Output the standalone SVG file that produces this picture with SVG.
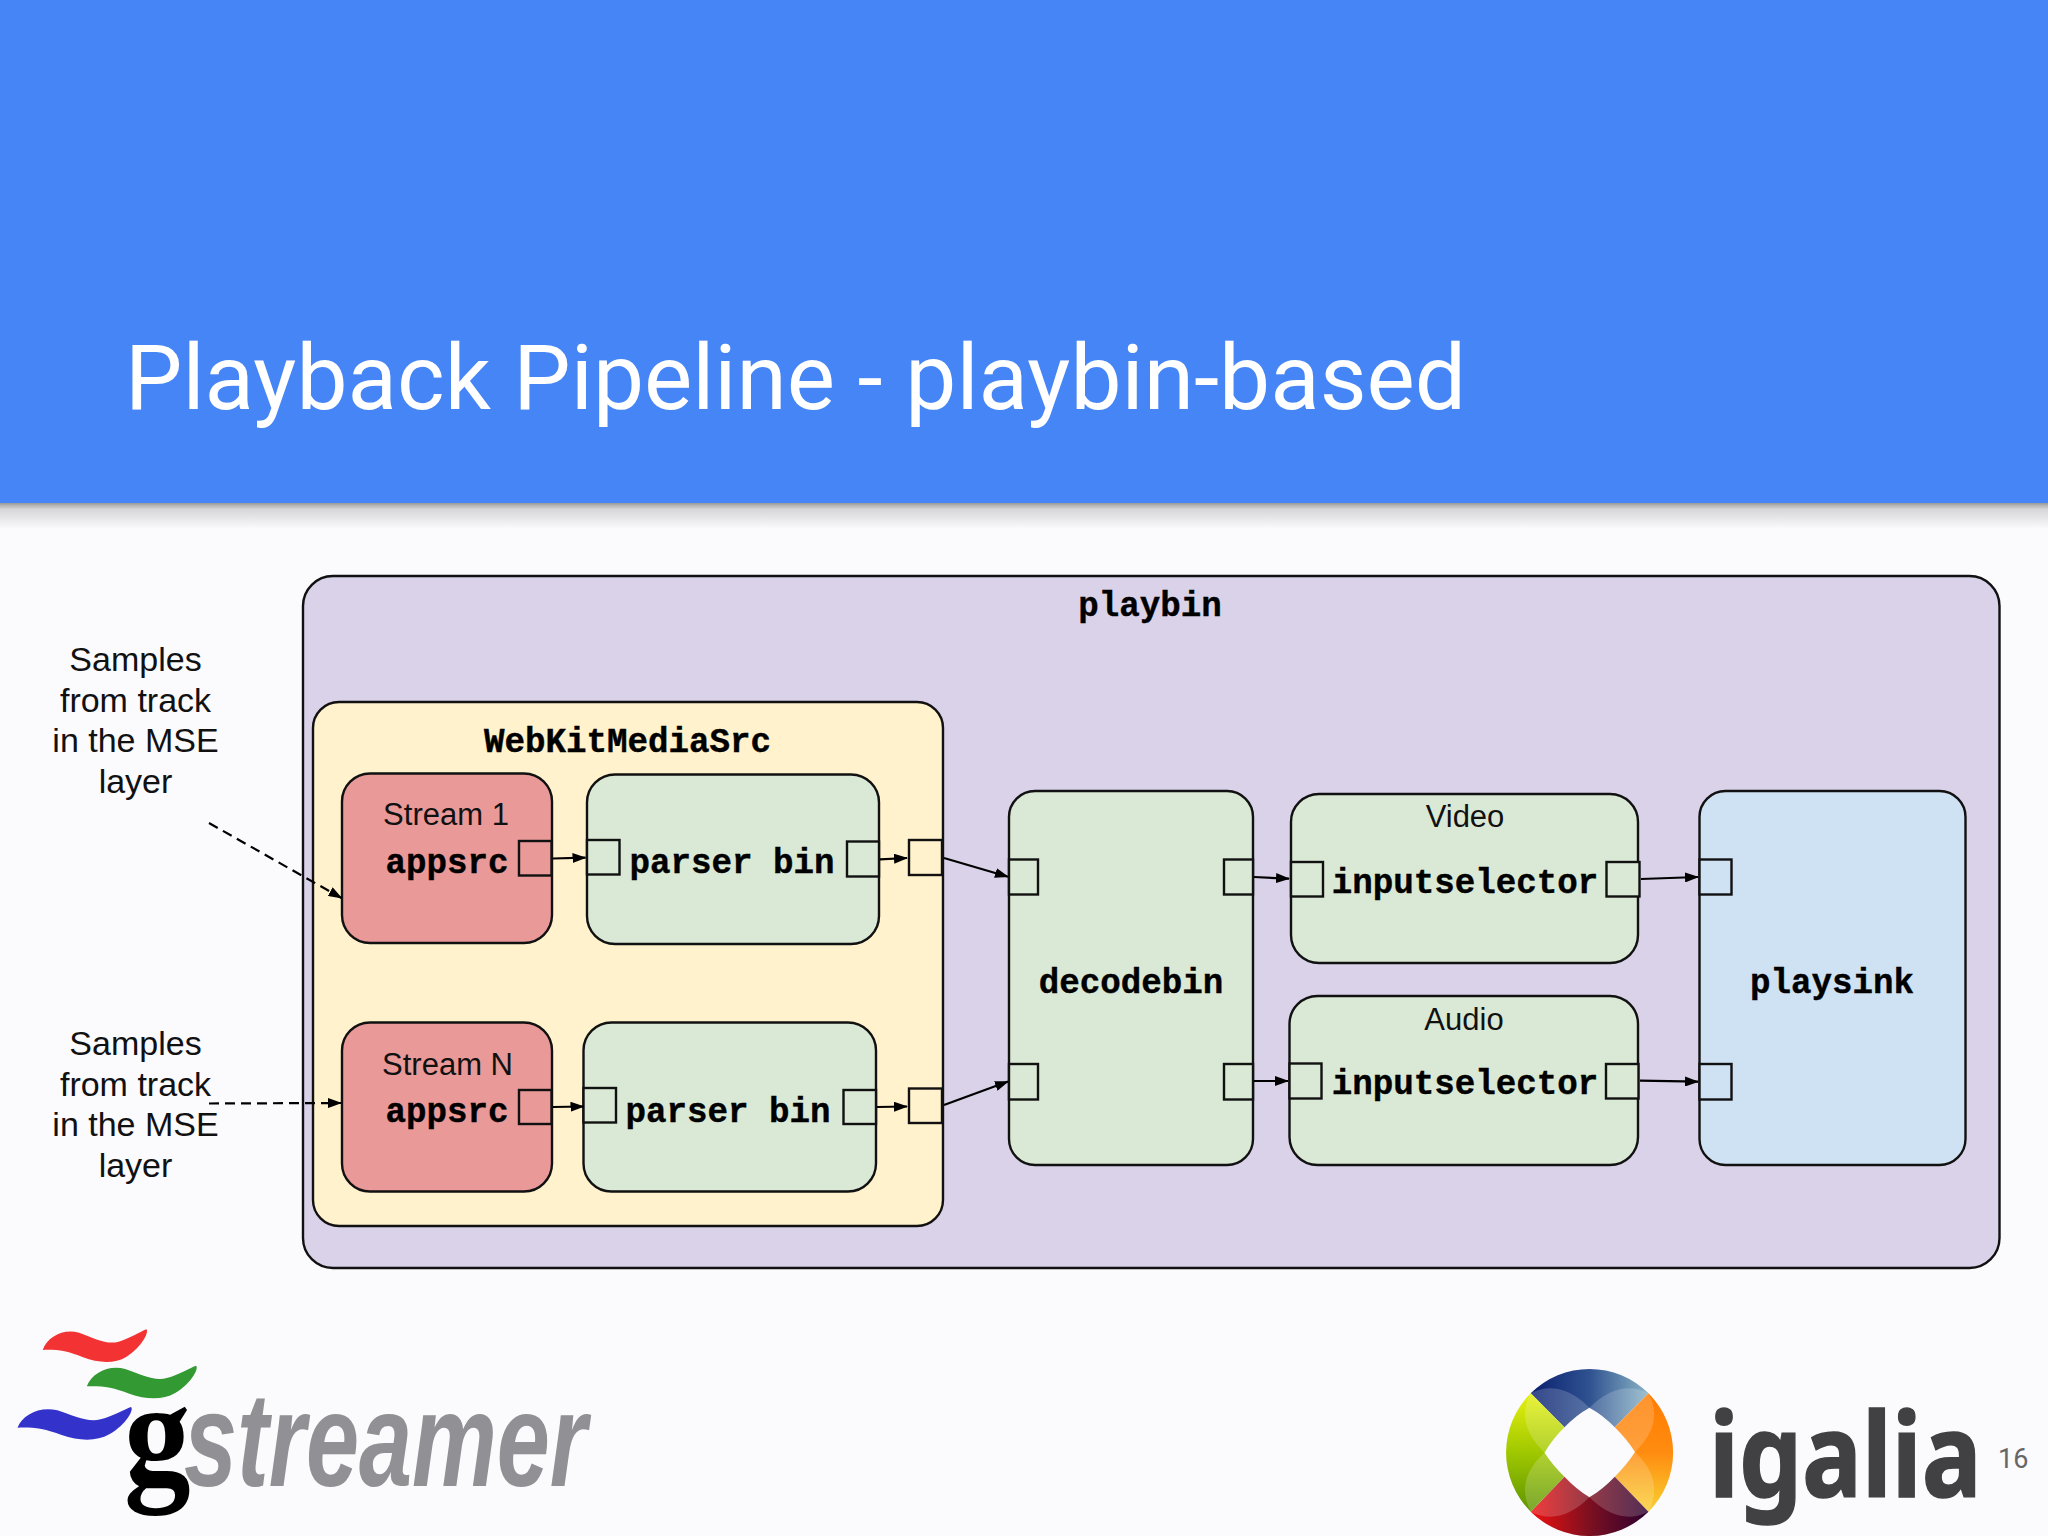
<svg xmlns="http://www.w3.org/2000/svg" width="2048" height="1536" viewBox="0 0 2048 1536">
<style>
.box{stroke:#111;stroke-width:2.4}
.port{stroke:#111;stroke-width:2.4}
.mono{font-family:"Liberation Mono",monospace;font-weight:700;font-size:34.2px;fill:#000;stroke:#000;stroke-width:.4;text-anchor:middle}
.sans{font-family:"Liberation Sans",Arial,sans-serif;font-size:31px;fill:#111;text-anchor:middle}
.note{font-family:"Liberation Sans",Arial,sans-serif;font-size:34px;fill:#111;text-anchor:middle}
.g{fill:#dae9d5}.r{fill:#ea9999}.b{fill:#cfe2f3}.y{fill:#fff2cc}.p{fill:#d9d2e9}
.c{fill:none;stroke:#000;stroke-width:2.2}
.d{stroke-dasharray:10 6}
</style>
<defs>
<marker id="ah" markerUnits="userSpaceOnUse" markerWidth="14" markerHeight="10" refX="13" refY="5" orient="auto"><path d="M0,0L14,5L0,10Z" fill="#000"/></marker>
<linearGradient id="sh" x1="0" y1="0" x2="0" y2="1"><stop offset="0" stop-color="#888" stop-opacity=".85"/><stop offset=".25" stop-color="#aaa" stop-opacity=".45"/><stop offset="1" stop-color="#aaa" stop-opacity="0"/></linearGradient>
<linearGradient id="igT" gradientUnits="userSpaceOnUse" x1="140" y1="0" x2="465" y2="0"><stop offset="0" stop-color="#0a2070"/><stop offset=".5" stop-color="#2f5290"/><stop offset="1" stop-color="#8ab4c6"/></linearGradient>
<linearGradient id="igR" gradientUnits="userSpaceOnUse" x1="0" y1="160" x2="0" y2="515"><stop offset="0" stop-color="#ff7c00"/><stop offset=".5" stop-color="#ff8c10"/><stop offset="1" stop-color="#f8d030"/></linearGradient>
<linearGradient id="igB" gradientUnits="userSpaceOnUse" x1="140" y1="0" x2="465" y2="0"><stop offset="0" stop-color="#f01010"/><stop offset=".5" stop-color="#7c1020"/><stop offset="1" stop-color="#2c0030"/></linearGradient>
<linearGradient id="igL" gradientUnits="userSpaceOnUse" x1="0" y1="160" x2="0" y2="515"><stop offset="0" stop-color="#e6f010"/><stop offset=".5" stop-color="#a0c800"/><stop offset="1" stop-color="#5e9400"/></linearGradient>
<path id="wave" d="M108,150C120,110 160,85 200,98C240,115 270,135 300,125C330,115 355,95 370,88C378,95 360,140 320,170C290,192 250,190 210,172C170,152 140,148 108,150Z"/>
</defs>
<rect width="2048" height="1536" fill="#fbfafd"/>
<g id="header">
<rect y="503" width="2048" height="26" fill="url(#sh)"/>
<rect width="2048" height="503" fill="#4685f6"/>
<text x="125" y="409" font-family="Roboto,sans-serif" font-weight="400" font-size="91" fill="#fff">Playback Pipeline - playbin-based</text>
</g>
<g id="notes">
<text class="note"><tspan x="135.500" y="671">Samples</tspan><tspan x="135.500" y="711.500">from track</tspan><tspan x="135.500" y="752">in the MSE</tspan><tspan x="135.500" y="792.500">layer</tspan></text>
<text class="note"><tspan x="135.500" y="1055">Samples</tspan><tspan x="135.500" y="1095.500">from track</tspan><tspan x="135.500" y="1136">in the MSE</tspan><tspan x="135.500" y="1176.500">layer</tspan></text>
</g>
<g id="playbin"><rect class="box p" x="303" y="576" width="1696.500" height="692" rx="30"/><text class="mono" x="1150" y="616">playbin</text></g>
<g id="webkitmediasrc"><rect class="box y" x="313" y="702" width="630" height="524" rx="26"/><text class="mono" x="627.500" y="752">WebKitMediaSrc</text>
<rect class="port y" x="909" y="840" width="33" height="35"/><rect class="port y" x="909" y="1088.500" width="33" height="34.500"/></g>
<g id="stream1"><rect class="box r" x="342" y="773.500" width="210" height="169.500" rx="28"/><text class="sans" x="446" y="825">Stream 1</text><text class="mono" x="447" y="873">appsrc</text><rect class="port r" x="519" y="841" width="32.500" height="34.500"/></g>
<g id="parser1"><rect class="box g" x="587" y="774.500" width="292" height="169.500" rx="28"/><text class="mono" x="732" y="873">parser bin</text><rect class="port g" x="587" y="840" width="32.500" height="34.500"/><rect class="port g" x="847" y="841.500" width="32" height="35"/></g>
<g id="streamN"><rect class="box r" x="342" y="1022.500" width="210" height="169" rx="28"/><text class="sans" x="447.500" y="1075">Stream N</text><text class="mono" x="447" y="1122">appsrc</text><rect class="port r" x="519" y="1090" width="32.500" height="34"/></g>
<g id="parser2"><rect class="box g" x="583.500" y="1022.500" width="292.500" height="169" rx="28"/><text class="mono" x="728" y="1122">parser bin</text><rect class="port g" x="583.500" y="1088" width="32.500" height="34.500"/><rect class="port g" x="843.500" y="1090" width="32.500" height="34"/></g>
<g id="decodebin"><rect class="box g" x="1009" y="791" width="244" height="374" rx="26"/><text class="mono" x="1131" y="993">decodebin</text><rect class="port g" x="1009" y="859.500" width="29" height="35"/><rect class="port g" x="1009" y="1064" width="29" height="35.500"/><rect class="port g" x="1224" y="859.500" width="29" height="35"/><rect class="port g" x="1224" y="1064" width="29" height="35.500"/></g>
<g id="videoselector"><rect class="box g" x="1291" y="794" width="347" height="169" rx="28"/><text class="sans" x="1465" y="827">Video</text><text class="mono" x="1465" y="893">inputselector</text><rect class="port g" x="1291" y="862" width="32" height="34.500"/><rect class="port g" x="1606.500" y="862" width="33" height="34.500"/></g>
<g id="audioselector"><rect class="box g" x="1289.500" y="996" width="348.500" height="169" rx="28"/><text class="sans" x="1464" y="1030">Audio</text><text class="mono" x="1465" y="1093.500">inputselector</text><rect class="port g" x="1289.500" y="1063.500" width="32" height="35"/><rect class="port g" x="1606" y="1064" width="32.500" height="34.500"/></g>
<g id="playsink"><rect class="box b" x="1699.500" y="791" width="266" height="374" rx="26"/><text class="mono" x="1832" y="993">playsink</text><rect class="port b" x="1699.500" y="859.500" width="32" height="35"/><rect class="port b" x="1699.500" y="1064" width="32" height="35.500"/></g>
<g id="connectors">
<path class="c d" d="M209,823L341.500,898" marker-end="url(#ah)"/>
<path class="c d" d="M209,1103.500L341,1103" marker-end="url(#ah)"/>
<path class="c" d="M553,858.500L585.500,857.700" marker-end="url(#ah)"/>
<path class="c" d="M880,859.400L907,858" marker-end="url(#ah)"/>
<path class="c" d="M944,858L1008,876.700" marker-end="url(#ah)"/>
<path class="c" d="M553,1107L583.500,1106.500" marker-end="url(#ah)"/>
<path class="c" d="M877,1107L907,1106.500" marker-end="url(#ah)"/>
<path class="c" d="M944,1105L1008,1081.500" marker-end="url(#ah)"/>
<path class="c" d="M1254,877L1289,878.700" marker-end="url(#ah)"/>
<path class="c" d="M1641,879L1698,877" marker-end="url(#ah)"/>
<path class="c" d="M1254,1081L1288,1081" marker-end="url(#ah)"/>
<path class="c" d="M1640,1080.700L1698,1081.700" marker-end="url(#ah)"/>
</g>
<g id="gstreamer-logo">
<g transform="translate(0,1300) scale(.3954,.3333)">
<use href="#wave" fill="#f33333"/>
<use href="#wave" transform="translate(106,109) scale(1.053,1)" fill="#339933"/>
<use href="#wave" transform="translate(-74,233) scale(1.095,1)" fill="#3333cc"/>
</g>
<text transform="translate(184,1486) scale(.717,1)" font-family="Liberation Sans,sans-serif" font-weight="700" font-style="italic" font-size="133" fill="#919094">streamer</text>
<text transform="translate(124,1483) scale(.9,1)" font-family="Liberation Serif,serif" font-weight="700" font-size="148" fill="#000">g</text>
</g>
<g id="igalia-logo">
<g transform="translate(1480,1340) scale(.3623,.3333)">
<path d="M140,160A230,250 0 0 1 465,160L372,262Q340,225 302,203Q265,225 233,262Z" fill="url(#igT)"/>
<path d="M465,160A230,250 0 0 1 465,515L372,410Q405,375 428,336Q405,297 372,262Z" fill="url(#igR)"/>
<path d="M465,515A230,250 0 0 1 140,515L233,410Q265,447 302,472Q340,447 372,410Z" fill="url(#igB)"/>
<path d="M140,515A230,250 0 0 1 140,160L233,262Q200,297 178,338Q200,375 233,410Z" fill="url(#igL)"/>
<g fill="#fff" fill-opacity=".18">
<path d="M140,160Q220,115 302,203Q265,225 233,262Z"/>
<path d="M465,160Q385,115 302,203Q340,225 372,262Z"/>
<path d="M465,160Q510,250 428,336Q405,297 372,262Z"/>
<path d="M465,515Q510,420 428,336Q405,375 372,410Z"/>
<path d="M140,515Q220,560 302,472Q265,447 233,410Z"/>
<path d="M465,515Q385,560 302,472Q340,447 372,410Z"/>
<path d="M140,160Q95,250 178,338Q200,297 233,262Z"/>
<path d="M140,515Q95,420 178,338Q200,375 233,410Z"/>
</g>
</g>
<text transform="translate(1709,1497) scale(.855,1)" font-family="Noto Sans,sans-serif" font-weight="700" font-size="117" fill="#414042" stroke="#414042" stroke-width="1.500">igalia</text>
</g>
<text id="page-number" x="1998" y="1468" font-family="Roboto,sans-serif" font-size="27" fill="#666">16</text>
</svg>
